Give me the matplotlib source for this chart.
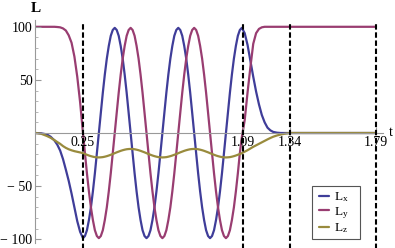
import matplotlib
matplotlib.use('Agg')
import matplotlib.pyplot as plt
from matplotlib.ticker import MultipleLocator
from matplotlib.patches import Rectangle

plt.rcParams['font.family'] = ['Liberation Serif', 'DejaVu Serif']
plt.rcParams['mathtext.fontset'] = 'custom'
plt.rcParams['mathtext.rm'] = 'Liberation Serif'
plt.rcParams['mathtext.it'] = 'Liberation Serif:italic'

# ---------------- data ----------------
t_vals = [
    0, 0.03, 0.06, 0.08, 0.10, 0.115, 0.13, 0.145, 0.16, 0.175, 0.19, 0.205, 0.22, 0.235,
    0.2500, 0.2604, 0.2709, 0.2813, 0.2918, 0.3022, 0.3126, 0.3231,
    0.3335, 0.3439, 0.3544, 0.3648, 0.3753, 0.3857, 0.3961, 0.4066,
    0.4170, 0.4274, 0.4379, 0.4483, 0.4588, 0.4692, 0.4796, 0.4901,
    0.5005, 0.5109, 0.5214, 0.5318, 0.5423, 0.5527, 0.5631, 0.5736,
    0.5840, 0.5944, 0.6049, 0.6153, 0.6258, 0.6362, 0.6466, 0.6571,
    0.6675, 0.6779, 0.6884, 0.6988, 0.7093, 0.7197, 0.7301, 0.7406,
    0.7510, 0.7614, 0.7719, 0.7823, 0.7928, 0.8032, 0.8136, 0.8241,
    0.8345, 0.8449, 0.8554, 0.8658, 0.8763, 0.8867, 0.8971, 0.9076,
    0.9180, 0.9284, 0.9389, 0.9493, 0.9598, 0.9702, 0.9806, 0.9911,
    1.0015, 1.0119, 1.0224, 1.0328, 1.0433, 1.0537, 1.0641, 1.0746,
    1.0850,
    1.10, 1.115, 1.13, 1.145, 1.16, 1.175, 1.19, 1.205, 1.22, 1.235, 1.25, 1.27, 1.29, 1.31, 1.34, 1.79,
]

lx_vals = [
    0, -0.3, -1.3, -3.5, -7, -11, -16.5, -24.5, -34.5, -45, -57, -70, -83, -93,
    -99, -97, -91.5, -82, -70, -55, -38, -19, 0, 19, 38, 55, 70, 82, 91.5, 97,
    99, 97, 91.5, 82, 70, 55, 38, 19, 0, -19, -38, -55, -70, -82, -91.5, -97,
    -99, -97, -91.5, -82, -70, -55, -38, -19, 0, 19, 38, 55, 70, 82, 91.5, 97,
    99, 97, 91.5, 82, 70, 55, 38, 19, 0, -19, -38, -55, -70, -82, -91.5, -97,
    -99, -97, -91.5, -82, -70, -55, -38, -19, 0, 19, 38, 55, 70, 82, 91.5, 97,
    99,
    94, 83, 68, 53, 39, 27, 17, 10, 5, 2.5, 1, 0.3, 0, 0, 0, 0,
]

ly_vals = [
    100, 100, 100, 100, 100, 99.8, 99.5, 98.5, 96.5, 92, 85, 72, 53, 29,
    0, -19, -38, -55, -70, -82, -91.5, -97, -99, -97, -91.5, -82, -70, -55, -38, -19,
    0, 19, 38, 55, 70, 82, 91.5, 97, 99, 97, 91.5, 82, 70, 55, 38, 19,
    0, -19, -38, -55, -70, -82, -91.5, -97, -99, -97, -91.5, -82, -70, -55, -38, -19,
    0, 19, 38, 55, 70, 82, 91.5, 97, 99, 97, 91.5, 82, 70, 55, 38, 19,
    0, -19, -38, -55, -70, -82, -91.5, -97, -99, -97, -91.5, -82, -70, -55, -38, -19,
    -4,
    12, 38, 62, 84, 94, 98, 99.5, 100, 100, 100, 100, 100, 100, 100, 100, 100,
]

lz_vals = [
    0, -0.7, -2.8, -4.5, -6.7, -8.5, -10.2, -12.3, -14, -15.3, -16.3, -17.1, -17.7, -18.3,
    -19, -19.8, -20.5, -21.2, -21.8, -22.3, -22.7, -22.9, -23, -22.9, -22.7, -22.3, -21.8, -21.2, -20.5, -19.8,
    -19, -18.2, -17.5, -16.8, -16.2, -15.7, -15.3, -15.1, -15, -15.1, -15.3, -15.7, -16.2, -16.8, -17.5, -18.2,
    -19, -19.8, -20.5, -21.2, -21.8, -22.3, -22.7, -22.9, -23, -22.9, -22.7, -22.3, -21.8, -21.2, -20.5, -19.8,
    -19, -18.2, -17.5, -16.8, -16.2, -15.7, -15.3, -15.1, -15, -15.1, -15.3, -15.7, -16.2, -16.8, -17.5, -18.2,
    -19, -19.8, -20.5, -21.2, -21.8, -22.3, -22.7, -22.9, -23, -22.9, -22.7, -22.3, -21.8, -21.2, -20.5, -19.8,
    -19,
    -17.6, -16.2, -14.6, -13, -11.6, -10.2, -8.8, -7.4, -6, -4.7, -3.5, -2.3, -1.4, -0.7, 0, 0,
]

series_labels = [r'L$_\mathrm{x}$', r'L$_\mathrm{y}$', r'L$_\mathrm{z}$']
series_colors = ['#3f3d99', '#993d71', '#998b3d']

x_marks = [0.25, 1.09, 1.34, 1.79]
x_mark_labels = ['0.25', '1.09', '1.34', '1.79']
y_ticks = [-100, -50, 50, 100]
y_tick_labels = ['\u2212 100', '\u2212 50', '50', '100']

# ---------------- figure ----------------
W, H = 395, 248
fig = plt.figure(figsize=(W / 100, H / 100), dpi=100)
ax = fig.add_axes([35.4 / W, 1 - 242.5 / H, (383 - 35.4) / W, (242.5 - 20) / H])
ax.set_xlim(0, 1.827)
ax.set_ylim(-103.1, 106.4)

for vals, lab, col in zip([lx_vals, ly_vals, lz_vals], series_labels, series_colors):
    ax.plot(t_vals, vals, color=col, lw=1.6, label=lab, zorder=2,
            solid_joinstyle='round', solid_capstyle='round')

for xv in x_marks:
    ax.plot([xv, xv], [-112, 103.8], color='black', lw=1.5, ls=(0, (2.6, 1.3)),
            clip_on=False, zorder=3)

# axes through origin
for s in ['top', 'right']:
    ax.spines[s].set_visible(False)
ax.spines['left'].set_position(('data', 0))
ax.spines['bottom'].set_position(('data', 0))
for s in ['left', 'bottom']:
    ax.spines[s].set_color('#999999')
    ax.spines[s].set_linewidth(0.8)
ax.set_axisbelow(False)

ax.set_xticks(x_marks)
ax.set_xticklabels(x_mark_labels)
ax.set_yticks(y_ticks)
ax.set_yticklabels(y_tick_labels)
ax.yaxis.set_minor_locator(MultipleLocator(10))
ax.tick_params(axis='x', direction='in', length=4, color='#999999', pad=2, labelsize=10)
ax.tick_params(axis='y', which='major', direction='in', length=4, color='#999999', pad=2, labelsize=10)
ax.tick_params(axis='y', which='minor', direction='in', length=2.2, color='#aaaaaa')

ax.text(0, 116.8, 'L', ha='center', va='center', fontsize=11, fontweight='bold', clip_on=False)
fig.text(391 / W, 1 - 133 / H, 't', ha='center', va='center', fontsize=10)

# legend frame drawn separately for exact size
frame = Rectangle((312 / W, 1 - 239 / H), 47.5 / W, 53 / H, transform=fig.transFigure,
                  facecolor='white', edgecolor='#555555', lw=0.8, zorder=4, clip_on=False)
ax.add_patch(frame)
leg = ax.legend(loc='upper left', bbox_to_anchor=(319 / W, 1 - 190.5 / H),
                bbox_transform=fig.transFigure, frameon=False,
                handlelength=0.75, handletextpad=0.4, borderpad=0.0,
                labelspacing=0.05, fontsize=9.5, borderaxespad=0)
leg.set_zorder(5)

fig.savefig('out.png', dpi=100)
